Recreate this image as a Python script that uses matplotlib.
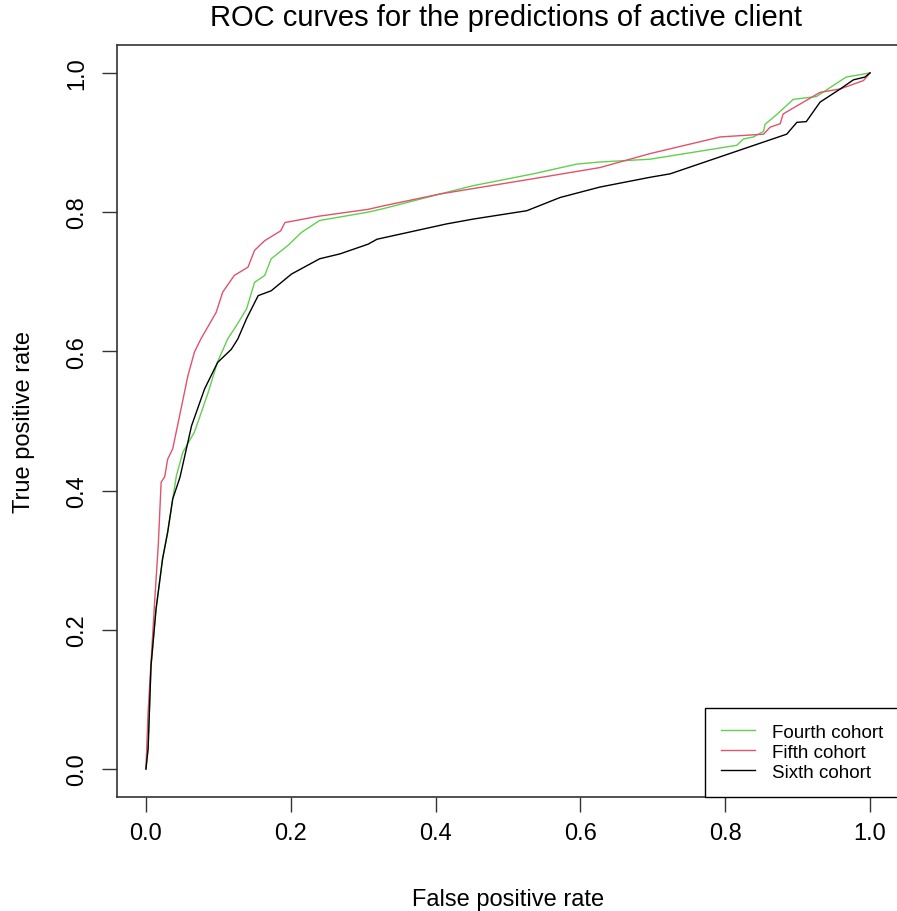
import matplotlib
matplotlib.use('Agg')
from matplotlib import pyplot as plt

plt.rcParams['font.family'] = ['Liberation Sans', 'DejaVu Sans']

# ROC points (false positive rate, true positive rate)
fourth_fpr = [0, 0.003, 0.007, 0.014, 0.023, 0.030, 0.037, 0.042, 0.051, 0.067, 0.086, 0.099,
              0.113, 0.125, 0.139, 0.150, 0.164, 0.173, 0.196, 0.215, 0.240, 0.307, 0.328,
              0.406, 0.452, 0.535, 0.595, 0.627, 0.696, 0.816, 0.825, 0.839, 0.853, 0.855,
              0.871, 0.894, 0.926, 0.967, 1.0]
fourth_tpr = [0, 0.029, 0.148, 0.23, 0.302, 0.340, 0.388, 0.421, 0.455, 0.484, 0.541, 0.585,
              0.618, 0.637, 0.661, 0.699, 0.709, 0.733, 0.752, 0.771, 0.788, 0.800, 0.805,
              0.826, 0.838, 0.855, 0.869, 0.872, 0.876, 0.896, 0.905, 0.908, 0.916, 0.926,
              0.940, 0.962, 0.966, 0.994, 1.0]

fifth_fpr = [0, 0.003, 0.012, 0.017, 0.021, 0.026, 0.030, 0.037, 0.058, 0.067, 0.076, 0.097,
             0.106, 0.122, 0.141, 0.150, 0.164, 0.186, 0.192, 0.238, 0.307, 0.328, 0.406,
             0.535, 0.627, 0.696, 0.793, 0.853, 0.862, 0.876, 0.880, 0.903, 0.931, 0.959,
             0.991, 1.0]
fifth_tpr = [0, 0.082, 0.24, 0.321, 0.412, 0.42, 0.445, 0.46, 0.565, 0.599, 0.618, 0.656,
             0.685, 0.709, 0.721, 0.745, 0.759, 0.773, 0.785, 0.794, 0.804, 0.809, 0.826,
             0.848, 0.864, 0.884, 0.908, 0.912, 0.922, 0.927, 0.941, 0.955, 0.972, 0.977,
             0.989, 1.0]

sixth_fpr = [0, 0.003, 0.007, 0.014, 0.023, 0.030, 0.037, 0.047, 0.063, 0.081, 0.099, 0.118,
             0.127, 0.139, 0.155, 0.173, 0.201, 0.240, 0.268, 0.307, 0.319, 0.415, 0.452,
             0.526, 0.572, 0.627, 0.696, 0.724, 0.885, 0.899, 0.912, 0.931, 0.959, 0.977,
             0.993, 1.0]
sixth_tpr = [0, 0.029, 0.148, 0.23, 0.302, 0.340, 0.388, 0.419, 0.493, 0.546, 0.584, 0.603,
             0.618, 0.647, 0.680, 0.687, 0.711, 0.733, 0.740, 0.754, 0.761, 0.783, 0.790,
             0.802, 0.821, 0.836, 0.850, 0.855, 0.912, 0.929, 0.930, 0.958, 0.977, 0.990,
             0.994, 1.0]

labels = ['Fourth cohort', 'Fifth cohort', 'Sixth cohort']
ticks = [0.0, 0.2, 0.4, 0.6, 0.8, 1.0]

fig = plt.figure(figsize=(8.97, 9.12), dpi=100)
ax = fig.add_axes([0.1304, 0.1252, 0.8718, 0.8243])

ax.plot(fourth_fpr, fourth_tpr, color='#61D04F', lw=1.0, label=labels[0])
ax.plot(fifth_fpr, fifth_tpr, color='#DF536B', lw=1.0, label=labels[1])
ax.plot(sixth_fpr, sixth_tpr, color='black', lw=1.0, label=labels[2])

ax.set_xlim(-0.04, 1.04)
ax.set_ylim(-0.04, 1.04)
ax.set_xticks(ticks)
ax.set_yticks(ticks)
ax.set_xticklabels(['%.1f' % t for t in ticks], fontsize=17)
ax.set_yticklabels(['%.1f' % t for t in ticks], fontsize=17, rotation=90, va='center')
ax.tick_params(length=11, width=1, color='#333333')
ax.tick_params(axis='x', pad=7)
ax.tick_params(axis='y', pad=10)
for s in ax.spines.values():
    s.set_color('#333333')
    s.set_linewidth(1.2)

ax.set_xlabel('False positive rate', fontsize=17, labelpad=32)
ax.set_ylabel('True positive rate', fontsize=17, labelpad=22)
fig.text(0.564, 0.980, 'ROC curves for the predictions of active client',
         fontsize=21, ha='center', va='center')

leg = ax.legend(loc='lower right', borderaxespad=0, fancybox=False, edgecolor='black',
                framealpha=1, fontsize=13.5, handlelength=1.8, handletextpad=0.9,
                borderpad=0.85, labelspacing=0.15)
leg.get_frame().set_linewidth(1)

fig.savefig('out.png', dpi=100)
